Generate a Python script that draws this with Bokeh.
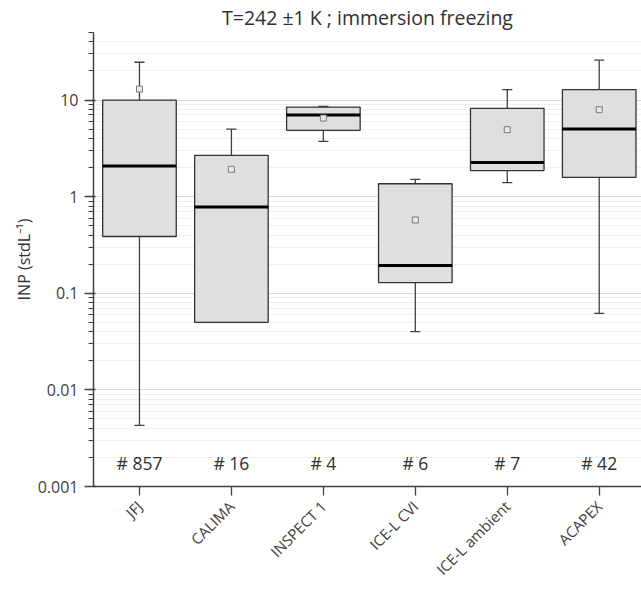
import numpy as np
from bokeh.plotting import figure
from bokeh.models import Range1d, FixedTicker, CustomJSTickFormatter, ColumnDataSource
from bokeh.embed import file_html
from bokeh.resources import INLINE
from bokeh.core.properties import value

# INP concentration statistics per campaign (stdL^-1)
campaigns = ["JFJ", "CALIMA", "INSPECT 1", "ICE-L CVI", "ICE-L ambient", "ACAPEX"]
counts = [857, 16, 4, 6, 7, 42]
whisker_low = [0.0043, 0.05, 3.74, 0.040, 1.40, 0.062]
q1 = [0.387, 0.050, 4.86, 0.129, 1.86, 1.58]
median = [2.08, 0.78, 7.0, 0.194, 2.25, 5.0]
q3 = [10.0, 2.68, 8.45, 1.36, 8.2, 12.8]
whisker_high = [24.6, 5.0, 8.6, 1.51, 12.8, 25.9]
mean = [13.0, 1.92, 6.5, 0.574, 4.93, 7.94]

FONT = "Open Sans"
TEXT = "#404040"
BOX_W = 0.8
CAP_W = 0.11

x = np.arange(len(campaigns))
src = ColumnDataSource(dict(
    x=x, lo=whisker_low, q1=q1, med=median, q3=q3, hi=whisker_high, mean=mean,
    x0=x - BOX_W / 2, x1=x + BOX_W / 2, c0=x - CAP_W / 2, c1=x + CAP_W / 2,
    n=[f"# {c}" for c in counts],
))

p = figure(width=641, height=590, y_axis_type="log",
           x_range=Range1d(-0.5, 5.46), y_range=Range1d(0.001, 50),
           output_backend="svg", toolbar_location=None,
           min_border_left=93, min_border_right=0, min_border_top=32,
           min_border_bottom=104)

p.title.text = "T=242 \u00b11 K ; immersion freezing"
p.title.align = "center"
p.title.text_font = FONT
p.title.text_font_size = "19.5px"
p.title.text_font_style = "normal"
p.title.text_color = "#303030"
p.title.standoff = 3
p.outline_line_color = None

# whiskers and caps
wkw = dict(line_color="#404040", line_width=1.3)
p.segment(x0="x", y0="q3", x1="x", y1="hi", source=src, **wkw)
p.segment(x0="x", y0="lo", x1="x", y1="q1", source=src, **wkw)
p.segment(x0="c0", y0="hi", x1="c1", y1="hi", source=src, **wkw)
p.segment(x0="c0", y0="lo", x1="c1", y1="lo", source=src, **wkw)

# boxes
p.quad(left="x0", right="x1", bottom="q1", top="q3", source=src,
       fill_color="#dfdfdf", line_color="#333333", line_width=1.3)
# medians
p.segment(x0="x0", y0="med", x1="x1", y1="med", source=src,
          line_color="#000000", line_width=3)
# means
p.scatter(x="x", y="mean", source=src, marker="square", size=6,
          fill_color="#e8e8e8", line_color="#7a7a7a", line_width=1)

# sample counts
p.text(x="x", y=0.00175, text="n", source=src, text_align="center",
       text_baseline="middle", text_font=value(FONT), text_font_size="17.5px",
       text_color="#303030")

# y axis (log)
major = [0.001, 0.01, 0.1, 1, 10]
minor = [m * 10.0 ** d for d in range(-3, 2) for m in range(2, 10) if m * 10.0 ** d <= 50]
yax = p.yaxis[0]
yax.ticker = FixedTicker(ticks=major, minor_ticks=minor)
yax.formatter = CustomJSTickFormatter(code="return String(tick)")
yax.axis_label = "INP (stdL\u207b\u00b9)"
yax.axis_label_text_font = FONT
yax.axis_label_text_font_size = "16px"
yax.axis_label_text_font_style = "normal"
yax.axis_label_text_color = "#303030"
yax.axis_label_standoff = 0
yax.major_label_text_font = FONT
yax.major_label_text_font_size = "16px"
yax.major_label_text_color = TEXT
yax.major_label_standoff = 6
yax.major_tick_out = 9
yax.major_tick_in = 2
yax.minor_tick_out = 5
yax.minor_tick_in = 0
yax.axis_line_color = "#404040"
yax.axis_line_width = 1.5
yax.major_tick_line_color = "#404040"
yax.major_tick_line_width = 1.3
yax.minor_tick_line_color = "#404040"
yax.minor_tick_line_width = 1.2

# x axis (campaigns)
xax = p.xaxis[0]
xax.ticker = FixedTicker(ticks=list(x), minor_ticks=[])
xax.major_label_overrides = {int(i): c for i, c in zip(x, campaigns)}
xax.major_label_orientation = np.pi / 4
xax.major_label_text_font = FONT
xax.major_label_text_font_size = "15px"
xax.major_label_text_color = TEXT
xax.major_label_standoff = 8
xax.major_tick_out = 9
xax.major_tick_in = 0
xax.axis_line_color = "#404040"
xax.axis_line_width = 1.5
xax.major_tick_line_color = "#404040"
xax.major_tick_line_width = 1.3

# grids
p.xgrid.grid_line_color = None
p.ygrid.grid_line_color = "#d8d8d8"
p.ygrid.grid_line_width = 1.2
p.ygrid.minor_grid_line_color = "#efefef"
p.ygrid.minor_grid_line_width = 1.2

open("out.html", "w").write(file_html(p, INLINE))
